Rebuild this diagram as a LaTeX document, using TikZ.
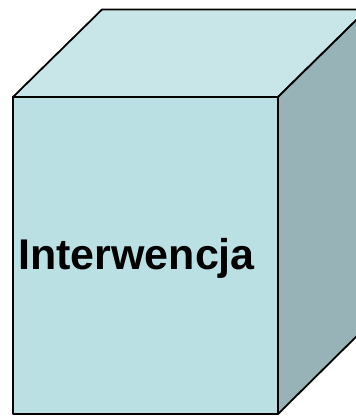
\documentclass[tikz,border=0pt]{standalone}
\usepackage{fontspec}
\setmainfont{Liberation Sans}
\usepackage{tikz}
\usetikzlibrary{calc}
\definecolor{frontcol}{HTML}{BBE0E3}
\definecolor{topcol}{HTML}{C8E6E8}
\definecolor{sidecol}{HTML}{97B3B7}
\tikzset{face/.style = {draw=black, line width=1.8pt, line join=round},
		boxtext/.style = {font=\fontsize{43}{50}\selectfont\bfseries, inner sep=0pt}}

\begin{document}
\begin{tikzpicture}[x=1pt,y=-1pt]
          \useasboundingbox (0,0) rectangle (356,416);
          \clip (0,0) rectangle (356,416);
          \draw[face,fill=topcol] (13,97) -- (102,9.5) -- (367,9.5) -- (278,97) -- cycle;
          \draw[face,fill=sidecol] (278,97) -- (367,9.5) -- (367,326) -- (278,414) -- cycle;
          \draw[face,fill=frontcol] (13,97) rectangle (278,414);
          \node[boxtext,anchor=base west] (name) at (18,269) {Interwencja};
        \end{tikzpicture}
\end{document}
